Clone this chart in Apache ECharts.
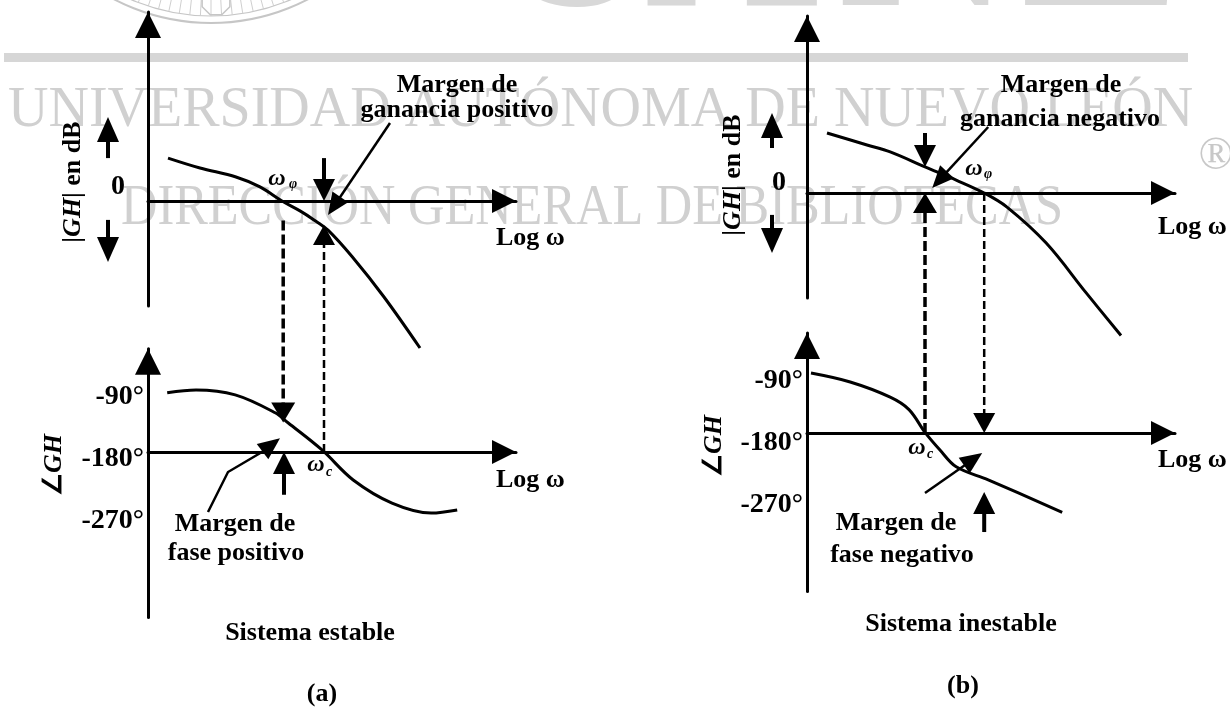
<!DOCTYPE html>
<html lang="es">
<head>
<meta charset="utf-8">
<title>Margen de ganancia y margen de fase</title>
<script src="https://cdn.jsdelivr.net/npm/echarts@6.0.0/dist/echarts.min.js"></script>
<style>
  html, body { margin: 0; padding: 0; background: #fff; }
  #chart { width: 1230px; height: 713px; }
</style>
</head>
<body>
<div id="chart"></div>
<script>
// eje horizontal: log w en unidades arbitrarias (0 = eje vertical)
// magnitud en dB, fase en grados

// (a) sistema estable
const magA_w  = [0.5, 1.3, 2.2, 2.8, 3.35, 3.8, 4.15, 4.5, 5.1, 5.9, 6.8];
const magA_db = [14.3, 11, 8, 4.7, 0, -3.3, -6.3, -9.7, -18.5, -32, -49];
const phA_w   = [0.48, 1.2, 2.18, 3.18, 3.5, 4.35, 5.13, 6.1, 7.08, 7.73];
const phA_deg = [-94, -90, -97, -123, -137.5, -177, -220.5, -254, -268.5, -264];

// (b) sistema inestable
const magB_w  = [0.5, 1.5, 2.08, 2.95, 3.73, 4.43, 5.0, 5.98, 6.98, 7.85];
const magB_db = [20, 16, 13.7, 8.7, 4.3, 0, -4.7, -16.7, -33.3, -47.5];
const phB_w   = [0.1, 1.08, 2.08, 2.55, 2.95, 3.33, 3.73, 4.53, 6.38];
const phB_deg = [-93, -106, -128, -146, -179, -205, -229, -248, -295];

// rangos de los ejes
const wRange     = [0, 9.2];
const magA_range = [-35, 63];
const phA_range  = [-420, -30];
const magB_range = [-35, 59];
const phB_range  = [-410, -35];
const phaseTicks = [-90, -180, -270];

// flechas: puntos [rejilla, w, valor] de la cola a la punta
// rejilla 0 = |GH| (a), 1 = fase (a), 2 = |GH| (b), 3 = fase (b)
const arrows = [
  { kind: 'sign',  pts: [[0, -1.0, 14.3], [0, -1.0, 28]] },
  { kind: 'sign',  pts: [[0, -1.0, -6.3], [0, -1.0, -20.3]] },
  { kind: 'mark',  pts: [[0, 4.4, 14.3], [0, 4.4, 0]] },
  { kind: 'point', pts: [[0, 6.05, 26], [0, 4.5, -4.7]] },
  { kind: 'dashA', pts: [[0, 3.38, -6.5], [1, 3.38, -137]] },
  { kind: 'dashB', pts: [[1, 4.4, -180], [0, 4.4, -8]] },
  { kind: 'mark',  pts: [[1, 3.4, -242], [1, 3.4, -180]] },
  { kind: 'point', pts: [[1, 1.5, -267], [1, 2.0, -209], [1, 2.85, -180], [1, 3.3, -160]] },

  { kind: 'sign',  pts: [[2, -0.875, 15], [2, -0.875, 26.7]] },
  { kind: 'sign',  pts: [[2, -0.875, -7.3], [2, -0.875, -20]] },
  { kind: 'mark',  pts: [[2, 2.95, 20], [2, 2.95, 8.7]] },
  { kind: 'point', pts: [[2, 4.53, 22], [2, 3.13, 1.7]] },
  { kind: 'dashA', pts: [[3, 2.95, -180], [2, 2.95, 0]] },
  { kind: 'dashB', pts: [[2, 4.43, 0], [3, 4.43, -180]] },
  { kind: 'mark',  pts: [[3, 4.43, -323.7], [3, 4.43, -265.6]] },
  { kind: 'point', pts: [[3, 2.95, -267], [3, 4.38, -209]] }
];

const SERIF = '"Liberation Serif", "Times New Roman", serif';
const INK = '#000';
const WM = '#d0d0d0';
const PHASE_SHIFT = 180; // la fase se cuenta desde -180 para que el eje log w pase por -180°
const isPhase = [false, true, false, true];

const ARROW_STYLE = {
  sign:  { width: 4,   head: [25, 22] },
  mark:  { width: 4,   head: [22, 22] },
  point: { width: 2.5, head: [22, 19] },
  dashA: { width: 3.5, head: [20, 24], dash: [10, 4] },
  dashB: { width: 2.5, head: [20, 22], dash: [8, 4] }
};

const chart = echarts.init(document.getElementById('chart'));

const grids = [
  { left: 148, top: 12,    width: 368, height: 294 },
  { left: 148, top: 348.7, width: 368, height: 268.7 },
  { left: 807, top: 16,    width: 368, height: 282 },
  { left: 807, top: 333.1, width: 368, height: 258.4 }
];

function xAxisFor(i) {
  return {
    type: 'value', gridIndex: i, min: wRange[0], max: wRange[1],
    axisLine: {
      onZero: true, symbol: ['none', 'triangle'], symbolSize: [24, 24], symbolOffset: [0, -12],
      lineStyle: { color: INK, width: 3 }
    },
    axisTick: { show: false }, axisLabel: { show: false }, splitLine: { show: false }
  };
}

// lab = [margen, alineación vertical, alto de línea]
function yAxisFor(i, range, phase, lab) {
  const shift = phase ? PHASE_SHIFT : 0;
  return {
    type: 'value', gridIndex: i,
    min: range[0] + shift, max: range[1] + shift, interval: phase ? 10 : 7,
    axisLine: {
      onZero: false, symbol: ['none', 'triangle'], symbolSize: [26, 26], symbolOffset: [0, -13],
      lineStyle: { color: INK, width: 3 }
    },
    axisTick: { show: false }, splitLine: { show: false },
    axisLabel: {
      color: INK, fontFamily: SERIF, fontWeight: 'bold', fontSize: 28,
      margin: lab[0], verticalAlign: lab[1], lineHeight: lab[2],
      formatter: function (v) {
        const d = Math.round(v) - shift;
        if (phase) return phaseTicks.indexOf(d) >= 0 ? d + '°' : '';
        return d === 0 ? '0' : '';
      }
    }
  };
}

function curve(i, xs, ys) {
  const shift = isPhase[i] ? PHASE_SHIFT : 0;
  return {
    type: 'line', xAxisIndex: i, yAxisIndex: i,
    data: xs.map((x, k) => [x, ys[k] + shift]),
    smooth: 0.35, symbol: 'none', clip: false, silent: true,
    lineStyle: { color: INK, width: 3 }, z: 3
  };
}

chart.setOption({
  backgroundColor: '#fff',
  animation: false,
  grid: grids,
  xAxis: [0, 1, 2, 3].map(xAxisFor),
  yAxis: [
    yAxisFor(0, magA_range, false, [23, 'bottom', 28]),
    yAxisFor(1, phA_range, true, [4, 'top', 14]),
    yAxisFor(2, magB_range, false, [21, 'bottom', 20]),
    yAxisFor(3, phB_range, true, [4, 'top', 20])
  ],
  series: [
    curve(0, magA_w, magA_db),
    curve(1, phA_w, phA_deg),
    curve(2, magB_w, magB_db),
    curve(3, phB_w, phB_deg)
  ]
});

// ---- anotaciones ----
function text(t, x, y, o) {
  o = o || {};
  const al = o.align || 'center';
  return {
    type: 'text', x: x, y: y, rotation: o.rot || 0, scaleX: o.sx || 1,
    z: o.z == null ? 20 : o.z, silent: true,
    style: {
      text: t, x: 0, y: 0, fill: o.fill || INK,
      fontFamily: SERIF, fontSize: o.size || 26,
      fontWeight: o.weight || 'bold', fontStyle: o.italic ? 'italic' : 'normal',
      align: al, textAlign: al, verticalAlign: 'middle', textVerticalAlign: 'middle',
      rich: o.rich
    }
  };
}

function arrowEls(pts, st) {
  const n = pts.length;
  const tip = pts[n - 1], prev = pts[n - 2];
  const dx = tip[0] - prev[0], dy = tip[1] - prev[1];
  const len = Math.hypot(dx, dy);
  const ux = dx / len, uy = dy / len;
  const L = st.head[0], W = st.head[1];
  const base = [tip[0] - ux * L, tip[1] - uy * L];
  const shaft = pts.slice(0, n - 1).concat([[base[0] + ux * 2, base[1] + uy * 2]]);
  const lineStyle = { stroke: INK, lineWidth: st.width, fill: null };
  if (st.dash) lineStyle.lineDash = st.dash;
  return [
    { type: 'polyline', shape: { points: shaft }, style: lineStyle, z: 60, silent: true },
    {
      type: 'polygon', z: 61, silent: true,
      shape: { points: [tip, [base[0] - uy * W / 2, base[1] + ux * W / 2], [base[0] + uy * W / 2, base[1] - ux * W / 2]] },
      style: { fill: INK }
    }
  ];
}

const toPx = (g, w, v) => chart.convertToPixel({ gridIndex: g }, [w, v + (isPhase[g] ? PHASE_SHIFT : 0)]);

const els = [];

// marca de agua
els.push({ type: 'rect', z: -10, silent: true, shape: { x: 4, y: 53, width: 1184, height: 9 }, style: { fill: '#d6d6d6' } });
[['U', 575], ['A', 732], ['N', 925], ['L', 1101]].forEach(function (p) {
  els.push(text(p[0], p[1], -57, { size: 240, fill: '#d8d8d8', z: -10 }));
});
const sealStroke = { fill: null, stroke: '#c6c6c6', lineWidth: 2 };
els.push({ type: 'circle', z: -10, silent: true, shape: { cx: 211, cy: -187, r: 210 }, style: sealStroke });
els.push({ type: 'circle', z: -10, silent: true, shape: { cx: 211, cy: -187, r: 203 }, style: { fill: null, stroke: '#c6c6c6', lineWidth: 1.2 } });
for (let a = 66; a <= 114; a += 3) {
  const t = a * Math.PI / 180;
  els.push({
    type: 'line', z: -10, silent: true,
    shape: { x1: 211 + 160 * Math.cos(t), y1: -187 + 160 * Math.sin(t), x2: 211 + 203 * Math.cos(t), y2: -187 + 203 * Math.sin(t) },
    style: { stroke: '#cfcfcf', lineWidth: 1 }
  });
}
const oct = [];
for (let k = 0; k < 8; k++) {
  const t = (22.5 + 45 * k) * Math.PI / 180;
  oct.push([216 + 15 * Math.cos(t), 1 + 15 * Math.sin(t)]);
}
els.push({ type: 'polygon', z: -10, silent: true, shape: { points: oct }, style: { fill: null, stroke: '#c6c6c6', lineWidth: 1.5 } });
els.push(text('UNIVERSIDAD AUTÓNOMA DE NUEVO LEÓN', 8, 111, { size: 56, weight: 'normal', fill: WM, align: 'left', z: -10 }));
els.push(text('DIRECCIÓN GENERAL DE BIBLIOTECAS', 121, 209, { size: 56, weight: 'normal', fill: WM, align: 'left', sx: 0.9, z: -10 }));
els.push(text('®', 1216, 157, { size: 46, weight: 'normal', fill: '#c8c8c8', z: -10 }));

// textos del diagrama
const richGH = {
  n: { fontFamily: SERIF, fontWeight: 'bold', fontSize: 26, fill: INK },
  i: { fontFamily: SERIF, fontWeight: 'bold', fontStyle: 'italic', fontSize: 26, fill: INK }
};
[
  ['Margen de', 457, 85], ['ganancia positivo', 457, 110],
  ['Margen de', 235, 524], ['fase positivo', 236, 553],
  ['Sistema estable', 310, 633], ['(a)', 322, 694],
  ['Margen de', 1061, 85], ['ganancia negativo', 1060, 119],
  ['Margen de', 896, 523], ['fase negativo', 902, 555],
  ['Sistema inestable', 961, 624], ['(b)', 963, 686]
].forEach(function (t) { els.push(text(t[0], t[1], t[2])); });

[[496, 238], [496, 480], [1158, 227], [1158, 460]].forEach(function (p) {
  els.push(text('Log ω', p[0], p[1], { align: 'left' }));
});

els.push(text('{n||}{i|GH}{n|| en dB}', 73, 182, { rot: Math.PI / 2, rich: richGH }));
els.push(text('{n||}{i|GH}{n|| en dB}', 733, 175, { rot: Math.PI / 2, rich: richGH }));
els.push(text('{n|∠}{i|GH}', 54, 465, { rot: Math.PI / 2, rich: richGH }));
els.push(text('{n|∠}{i|GH}', 714, 446, { rot: Math.PI / 2, rich: richGH }));

// frecuencias de cruce
[['φ', 277, 179, 293, 184], ['c', 316, 465, 329, 472], ['φ', 974, 169, 988, 174], ['c', 917, 448, 930, 454]].forEach(function (w) {
  els.push(text('ω', w[1], w[2], { size: 24, italic: true }));
  els.push(text(w[0], w[3], w[4], { size: 14, italic: true }));
});

arrows.forEach(function (a) {
  const pts = a.pts.map(function (p) { return toPx(p[0], p[1], p[2]); });
  arrowEls(pts, ARROW_STYLE[a.kind]).forEach(function (e) { els.push(e); });
});

chart.setOption({ graphic: { elements: els } });
</script>
</body>
</html>
